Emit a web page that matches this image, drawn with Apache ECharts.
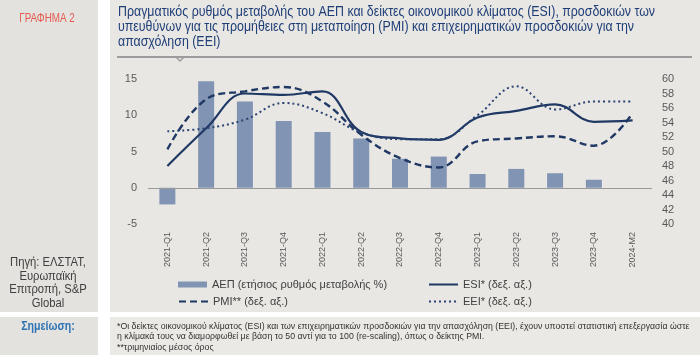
<!DOCTYPE html>
<html>
<head>
<meta charset="utf-8">
<script src="https://cdn.jsdelivr.net/npm/echarts@6/dist/echarts.min.js"></script>
<style>
html,body{margin:0;padding:0;background:#ffffff;}
#c{width:700px;height:355px;}
</style>
</head>
<body>
<div id="c"></div>
<script>
const categories = ['2021-Q1','2021-Q2','2021-Q3','2021-Q4','2022-Q1','2022-Q2','2022-Q3','2022-Q4','2023-Q1','2023-Q2','2023-Q3','2023-Q4','2024-M2'];
const gdp = [-2.3, 14.7, 11.9, 9.2, 7.7, 6.8, 4.0, 4.3, 1.9, 2.6, 2.0, 1.1, null];
const esi = [48.0, 53.2, 58.0, 57.8, 58.3, 52.7, 51.8, 51.6, 54.7, 55.6, 56.5, 54.1, 54.3];
const pmi = [50.3, 57.2, 58.3, 58.9, 56.9, 52.3, 49.1, 47.8, 51.4, 51.8, 52.1, 50.8, 55.3];
const eei = [52.8, 53.2, 54.4, 56.7, 55.3, 52.6, 51.7, 51.7, 55.0, 59.0, 55.8, 56.9, 56.9];
const seriesNames = ['ΑΕΠ (ετήσιος ρυθμός μεταβολής %)', 'ESI* (δεξ. αξ.)', 'PMI** (δεξ. αξ.)', 'EEI* (δεξ. αξ.)'];
const titleLines = ['Πραγματικός ρυθμός μεταβολής του ΑΕΠ και δείκτες οικονομικού κλίματος (ESI), προσδοκιών των',
  'υπευθύνων για τις προμήθειες στη μεταποίηση (PMI) και επιχειρηματικών προσδοκιών για την',
  'απασχόληση (ΕΕΙ)'];
const noteLines = ['*Οι δείκτες οικονομικού κλίματος (ESI) και των επιχειρηματικών προσδοκιών για την απασχόληση (ΕΕΙ), έχουν υποστεί στατιστική επεξεργασία ώστε',
  'η κλίμακά τους να διαμορφωθεί με βάση το 50 αντί για το 100 (re-scaling), όπως ο δείκτης PMI.',
  '**τριμηνιαίος μέσος όρος'];
const sourceLines = ['Πηγή: ΕΛΣΤΑΤ,', 'Ευρωπαϊκή', 'Επιτροπή, S&P', 'Global'];

const REG = "'Liberation Sans', Arial, sans-serif";
const NAVY = '#1f3864';

const chart = echarts.init(document.getElementById('c'), null, {renderer:'canvas'});

const legendCommon = {
  orient: 'horizontal', itemWidth: 29, itemHeight: 6, itemGap: 10,
  textStyle: {fontFamily: REG, fontSize: 11, color: '#404040'},
  selectedMode: false
};
const lineLegendItem = {color: 'transparent', borderWidth: 0, borderColor: 'transparent'};

chart.setOption({
  backgroundColor: '#ffffff',
  animation: false,
  grid: {left: 148, right: 48, top: 79, height: 145, containLabel: false},
  xAxis: {
    type: 'category', data: categories,
    axisLine: {show: false}, axisTick: {show: false},
    axisLabel: {rotate: 90, margin: 8, fontFamily: REG, fontSize: 9, color: '#595959', interval: 0}
  },
  yAxis: [
    {type: 'value', min: -5, max: 15, interval: 5, splitLine: {show: false},
     axisLine: {show: false}, axisTick: {show: false},
     axisLabel: {margin: 11, fontFamily: REG, fontSize: 11, color: '#595959'}},
    {type: 'value', min: 40, max: 60, interval: 2, splitLine: {show: false},
     axisLine: {show: false}, axisTick: {show: false},
     axisLabel: {margin: 10, fontFamily: REG, fontSize: 11, color: '#595959'}}
  ],
  legend: [
    Object.assign({}, legendCommon, {data: [{name: seriesNames[0], icon: 'rect'}], left: 173, top: 274}),
    Object.assign({}, legendCommon, {data: [{name: seriesNames[1], itemStyle: lineLegendItem}], left: 423, top: 274}),
    Object.assign({}, legendCommon, {data: [{name: seriesNames[2], itemStyle: lineLegendItem}], left: 173, top: 291}),
    Object.assign({}, legendCommon, {data: [{name: seriesNames[3], itemStyle: lineLegendItem}], left: 423, top: 291})
  ],
  series: [
    {name: seriesNames[0], type: 'bar', data: gdp, yAxisIndex: 0, barWidth: 16,
     itemStyle: {color: '#8294b3'},
     markLine: {silent: true, symbol: 'none', label: {show: false},
       lineStyle: {color: '#9a9a9a', width: 1, type: 'solid'}, data: [{yAxis: 0}]}},
    {name: seriesNames[1], type: 'line', data: esi, yAxisIndex: 1, smooth: 0.4, symbol: 'none',
     lineStyle: {color: NAVY, width: 2.2, type: 'solid'}, itemStyle: {color: NAVY}},
    {name: seriesNames[2], type: 'line', data: pmi, yAxisIndex: 1, smooth: 0.4, symbol: 'none',
     lineStyle: {color: NAVY, width: 2.4, type: [7, 4]}, itemStyle: {color: NAVY}},
    {name: seriesNames[3], type: 'line', data: eei, yAxisIndex: 1, smooth: 0.4, symbol: 'none',
     lineStyle: {color: '#2b4373', width: 2, type: [2, 3]}, itemStyle: {color: '#2b4373'}}
  ],
  graphic: [
    {type: 'rect', shape: {x: 0, y: 0, width: 98, height: 312}, style: {fill: '#e4e2de'}, z: -10, silent: true},
    {type: 'rect', shape: {x: 110, y: 0, width: 590, height: 312}, style: {fill: '#e8e7e3'}, z: -10, silent: true},
    {type: 'rect', shape: {x: 0, y: 317, width: 98, height: 38}, style: {fill: '#e4e2de'}, z: -10, silent: true},
    {type: 'rect', shape: {x: 110, y: 317, width: 590, height: 38}, style: {fill: '#eae9e5'}, z: -10, silent: true},
    {type: 'text', x: 47, y: 19, scaleX: 0.82, style: {text: 'ΓΡΑΦΗΜΑ 2', fill: '#e35a4f', font: '12px ' + REG, textAlign: 'center', textVerticalAlign: 'middle'}, silent: true},
    {type: 'text', x: 118, y: 5, scaleX: 0.885, style: {text: titleLines.join('\n'), fill: '#1f3e78', font: '14px ' + REG, lineHeight: 15, textAlign: 'left', textVerticalAlign: 'top'}, silent: true},
    {type: 'line', shape: {x1: 117, y1: 57, x2: 692, y2: 57}, style: {stroke: '#9c9c9c', lineWidth: 2}, silent: true},
    {type: 'polyline', shape: {points: [[176, 57], [180, 61], [184, 57]]}, style: {stroke: '#9c9c9c', lineWidth: 1.5, fill: null}, silent: true},
    {type: 'text', x: 48, y: 256, scaleX: 0.9, style: {text: sourceLines.join('\n'), fill: '#404040', font: '12.5px ' + REG, lineHeight: 13.5, textAlign: 'center', textVerticalAlign: 'top'}, silent: true},
    {type: 'text', x: 48, y: 327, scaleX: 0.85, style: {text: 'Σημείωση:', fill: '#2e74b5', font: 'bold 12.5px ' + REG, textAlign: 'center', textVerticalAlign: 'middle'}, silent: true},
    {type: 'text', x: 117, y: 321, scaleX: 0.92, style: {text: noteLines.join('\n'), fill: '#333333', font: '9.5px ' + REG, lineHeight: 10.5, textAlign: 'left', textVerticalAlign: 'top'}, silent: true}
  ]
});
</script>
</body>
</html>
